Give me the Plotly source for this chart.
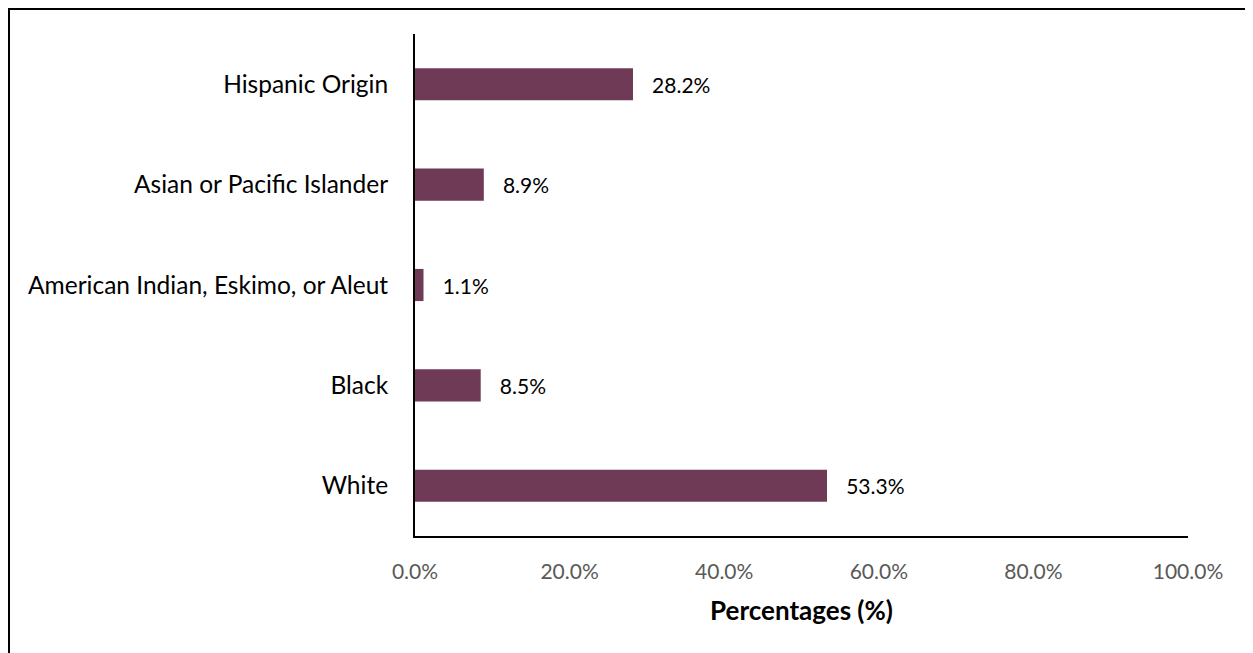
import plotly.graph_objects as go

categories = ["White", "Black", "American Indian, Eskimo, or Aleut",
              "Asian or Pacific Islander", "Hispanic Origin"]
values = [53.3, 8.5, 1.1, 8.9, 28.2]
tick_vals = [0, 20, 40, 60, 80, 100]
tick_text = ["0.0%", "20.0%", "40.0%", "60.0%", "80.0%", "100.0%"]

# page body has an 8px default margin; figure sized to fit the window
W, H = 1245, 645
L, R, T, B = 407, 65, 26, 117
pw = W - L - R
ph = H - T - B

FONT = "Lato, Open Sans, sans-serif"

fig = go.Figure(go.Bar(
    x=values, y=categories, orientation="h",
    marker=dict(color="#6F3A56", line=dict(width=0)),
    text=["\u00a0\u00a0\u00a0" + f"{v:.1f}%" for v in values],
    textposition="outside", cliponaxis=False,
    textfont=dict(family=FONT, size=21, color="#000000"),
    hoverinfo="skip",
))

fig.update_layout(
    width=W, height=H,
    margin=dict(l=L, r=R, t=T, b=B, pad=0),
    paper_bgcolor="white", plot_bgcolor="white",
    bargap=0.68, showlegend=False,
    font=dict(family=FONT),
    xaxis=dict(range=[0, 100], tickvals=tick_vals, ticktext=tick_text,
               showgrid=False, zeroline=False, showline=True,
               linecolor="#000000", linewidth=2, ticks="",
               ticklabelstandoff=16,
               tickfont=dict(size=21, color="#595959"),
               title=dict(text="<b>Percentages (%)</b>", standoff=20,
                          font=dict(size=26, color="#000000"))),
    yaxis=dict(showgrid=False, zeroline=False, showline=True,
               linecolor="#000000", linewidth=2, ticks="",
               ticklabelstandoff=20,
               tickfont=dict(size=24.5, color="#000000")),
    shapes=[dict(type="rect", xref="paper", yref="paper",
                 x0=(1 - L) / pw, x1=2.0,
                 y0=-1.0, y1=(H - B - 1) / ph,
                 line=dict(color="#000000", width=2), layer="below")],
)

fig.write_html("out.html")
